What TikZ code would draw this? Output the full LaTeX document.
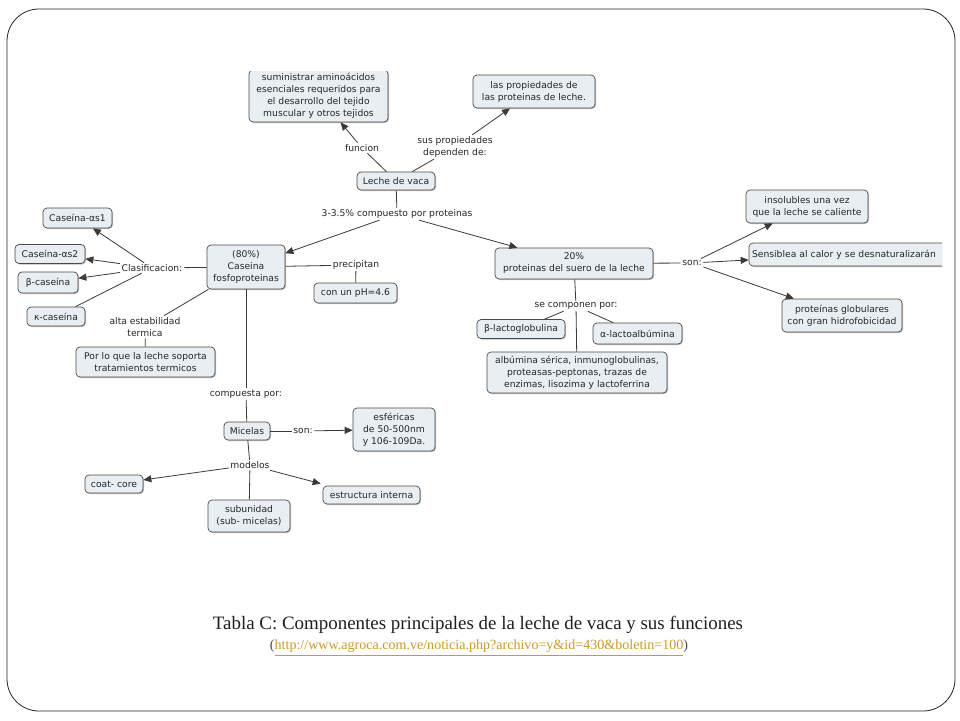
\documentclass[tikz,border=0pt]{standalone}
\usepackage{fontspec}
\setmainfont{DejaVu Sans}
\newfontfamily\capfont{Liberation Serif}
\usetikzlibrary{arrows.meta,shadows}
\definecolor{boxfill}{HTML}{E8EEF2}
\definecolor{boxdraw}{HTML}{4A4A4A}
\definecolor{linkcol}{HTML}{3A3A3A}
\definecolor{urlcol}{HTML}{C89B2A}
\definecolor{txtcol}{HTML}{262626}
\begin{document}
\begin{tikzpicture}[x=1pt,y=-1pt,
  concept/.style={draw=boxdraw, fill=boxfill, rounded corners=4pt, line width=0.7pt,
    align=center, font=\fontsize{9.2}{12}\selectfont, inner sep=1.5pt, text=txtcol,
    drop shadow={shadow xshift=1pt, shadow yshift=-1pt, opacity=0.25, fill=black}},
  sz/.style 2 args={minimum width=#1pt, minimum height=#2pt},
  lbl/.style={font=\fontsize{9.2}{12}\selectfont, align=center, inner sep=1.5pt, text=txtcol},
  link/.style={draw=linkcol, line width=0.8pt},
  arr/.style={link, -{Triangle[length=8pt,width=7pt]}}
]
\useasboundingbox (0,0) rectangle (960,720);
\fill[white] (0,0) rectangle (960,720);
% slide frame
\draw[line width=0.8pt, draw=black!85, rounded corners=32pt] (7,9) rectangle (955,711);

\begin{scope}
\clip (10,71) rectangle (942,560);
% ---------- boxes ----------
\node[concept, sz={139}{52}] (sumin) at (318.5,96) {suministrar aminoácidos\\esenciales requeridos para\\el desarrollo del tejido\\muscular y otros tejidos};
\node[concept, sz={122}{33}] (prop) at (534,91.5) {las propiedades de\\las proteinas de leche.};
\node[concept, sz={78}{18}] (leche) at (396,181) {Leche de vaca};
\node[concept, sz={78}{44}] (caseina) at (246,267) {(80\%)\\Caseina\\fosfoproteinas};
\node[concept, sz={158}{31}] (suero) at (574,263.5) {20\%\\proteinas del suero de la leche};
\node[concept, sz={69}{20}] (as1) at (77.5,218) {Caseína-αs1};
\node[concept, sz={70}{19}] (as2) at (50,254) {Caseína-αs2};
\node[concept, sz={60}{21}] (beta) at (48,282.5) {β-caseína};
\node[concept, sz={58}{19}] (kappa) at (56,316.5) {κ-caseína};
\node[concept, sz={139}{30}] (porlo) at (145.5,362) {Por lo que la leche soporta\\tratamientos termicos};
\node[concept, sz={83}{20}] (ph) at (355.5,293) {con un pH=4.6};
\node[concept, sz={46}{18}] (micelas) at (247,431) {Micelas};
\node[concept, sz={82}{43}] (esfer) at (394,429.5) {esféricas\\de 50-500nm\\y 106-109Da.};
\node[concept, sz={58}{18}] (coat) at (114,484) {coat- core};
\node[concept, sz={82}{32}] (subun) at (249,516) {subunidad\\(sub- micelas)};
\node[concept, sz={97}{18}] (estruc) at (371.5,495) {estructura interna};
\node[concept, sz={122}{33}] (insol) at (807,206.5) {insolubles una vez\\que la leche se caliente};
\node[concept, sz={200}{23}, text width=194pt, align=left] (sensib) at (849,254.5) {Sensiblea al calor y se desnaturalizarán};
\node[concept, sz={120}{33}] (globul) at (842,315.5) {proteínas globulares\\con gran hidrofobicidad};
\node[concept, sz={88}{19}] (blacto) at (521,329) {β-lactoglobulina};
\node[concept, sz={89}{21}] (alacto) at (637.5,333.5) {α-lactoalbúmina};
\node[concept, sz={180}{41}] (albumina) at (577,372.5) {albúmina sérica, inmunoglobulinas,\\proteasas-peptonas, trazas de\\enzimas, lisozima y lactoferrina};
% ---------- linking phrases ----------
\node[lbl] (funcion) at (362,148) {funcion};
\node[lbl] (susprop) at (455,147) {sus propiedades\\dependen de:};
\node[lbl] (comp3) at (397,214) {3-3.5\% compuesto por proteinas};
\node[lbl] (clasif) at (152,268) {Clasificacion:};
\node[lbl] (alta) at (145,327) {alta estabilidad\\termica};
\node[lbl] (precip) at (356,265) {precipitan};
\node[lbl] (compuesta) at (246,394) {compuesta por:};
\node[lbl] (sonmic) at (303,431) {son:};
\node[lbl] (modelos) at (250,465) {modelos};
\node[lbl] (sonsuero) at (692,263) {son:};
\node[lbl] (secomp) at (576,306) {se componen por:};
% ---------- connectors ----------
\draw[link] (leche) -- (funcion);
\draw[arr] (funcion) -- (sumin);
\draw[link] (leche) -- (susprop);
\draw[arr] (susprop) -- (prop);
\draw[link] (leche) -- (comp3);
\draw[arr] (comp3) -- (caseina);
\draw[arr] (comp3) -- (suero);
\draw[link] (caseina) -- (clasif);
\draw[arr] (clasif) -- (as1);
\draw[arr] (clasif) -- (as2);
\draw[arr] (clasif) -- (beta);
\draw[link] (clasif) -- (kappa);
\draw[link] (caseina) -- (alta);
\draw[link] (alta) -- (porlo);
\draw[link] (caseina) -- (precip);
\draw[link] (precip) -- (ph);
\draw[link] (caseina) -- (compuesta);
\draw[link] (compuesta) -- (micelas);
\draw[link] (micelas) -- (sonmic);
\draw[arr] (sonmic) -- (esfer);
\draw[link] (micelas) -- (modelos);
\draw[arr] (modelos) -- (coat);
\draw[link] (modelos) -- (subun);
\draw[arr] (modelos) -- ([xshift=-2pt,yshift=2pt]estruc.north west);
\draw[link] (suero) -- (sonsuero);
\draw[arr] (sonsuero) -- (insol);
\draw[arr] (sonsuero) -- (sensib);
\draw[arr] (sonsuero) -- (globul);
\draw[link] (suero) -- (secomp);
\draw[link] (secomp) -- (blacto);
\draw[link] (secomp) -- (alacto);
\draw[link] (secomp) -- (albumina);
\end{scope}

% ---------- caption ----------
\node[inner sep=0pt, text=black!88, font=\capfont] (cap) at (478,625)
  {\resizebox{530pt}{!}{Tabla C: Componentes principales de la leche de vaca y sus funciones}};
\node[inner sep=0pt, font=\capfont] (url) at (479,648)
  {\resizebox{418pt}{!}{\textcolor{black!70}{(}{\color{urlcol}\underline{http://www.agroca.com.ve/noticia.php?archivo=y\&id=430\&boletin=100}}\textcolor{black!70}{)}}};
\end{tikzpicture}
\end{document}
